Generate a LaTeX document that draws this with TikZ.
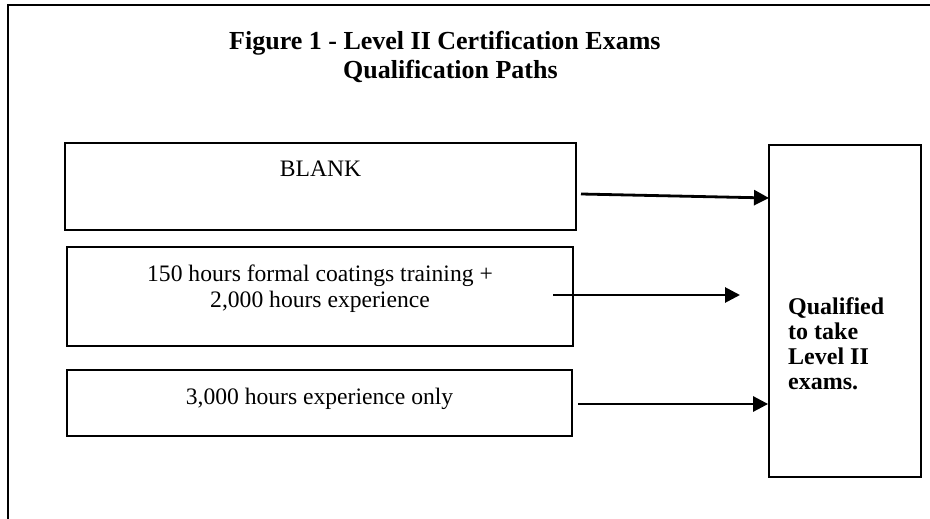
\documentclass[tikz,border=0pt]{standalone}
\usepackage{fontspec}
\setmainfont{Liberation Serif}
\usetikzlibrary{arrows.meta}
\begin{document}
\begin{tikzpicture}[x=1pt,y=-1pt,
  frame/.style={line width=2.2pt},
  pathbox/.style={draw, line width=1.8pt, inner sep=0pt},
  label/.style={anchor=base, inner sep=0pt, font=\fontsize{23.6}{26}\selectfont},
  heading/.style={anchor=base west, inner sep=0pt, font=\fontsize{26}{28}\selectfont\bfseries},
  outcome/.style={anchor=base west, inner sep=0pt, font=\fontsize{24}{26}\selectfont\bfseries},
  arr/.style={line width=2.8pt, -{Triangle[length=15pt,width=15pt]}}]
\useasboundingbox (0,0) rectangle (930,519);
% open frame round the figure
\draw[frame] (930,5) -- (8,5) -- (8,519);
% heading
\node[heading] (title1) at (229,50) {Figure 1 - Level II Certification Exams};
\node[heading] (title2) at (343,78) {Qualification Paths};
% the three qualification paths
\node[pathbox, minimum width=511pt, minimum height=87pt] (p1) at (320.5,186.5) {};
\node[pathbox, minimum width=506pt, minimum height=99pt] (p2) at (320,296.5) {};
\node[pathbox, minimum width=505pt, minimum height=66pt] (p3) at (319.5,403) {};
\node[label] (t1) at (p1.center |- 0,176) {BLANK};
\node[label] (t2a) at (p2.center |- 0,281) {150 hours formal coatings training +};
\node[label] (t2b) at (p2.center |- 0,307) {2,000 hours experience};
\node[label] (t3) at (p3.center |- 0,404) {3,000 hours experience only};
% outcome box
\node[pathbox, minimum width=152pt, minimum height=332pt] (q) at (845,311) {};
\node[outcome] (q1) at (788,314) {Qualified};
\node[outcome] (q2) at (788,339) {to take};
\node[outcome] (q3) at (788,364) {Level II};
\node[outcome] (q4) at (788,389) {exams.};
% connectors
\coordinate (a1s) at (581,194);
\coordinate (a1e) at (769,198);
\coordinate (a2s) at (553,295);
\coordinate (a2e) at (740,295);
\coordinate (a3s) at (578,404);
\draw[arr] (a1s) -- (a1e);
\draw[arr] (a2s) -- (a2e);
\draw[arr] (a3s) -- (a3s -| q.west);
\end{tikzpicture}
\end{document}
